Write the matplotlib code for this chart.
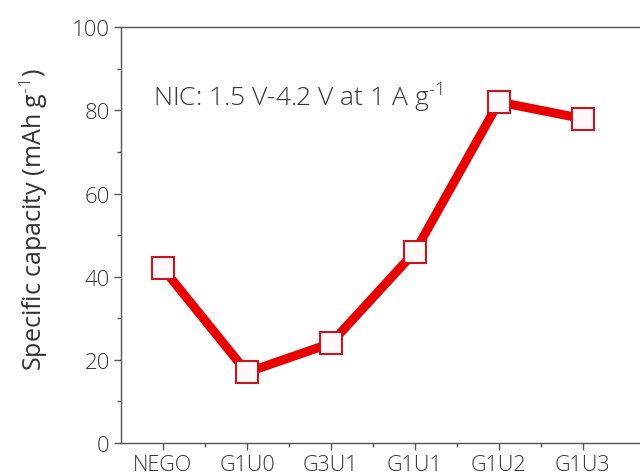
import matplotlib
matplotlib.use("Agg")
import matplotlib.pyplot as plt
from matplotlib.ticker import MultipleLocator

plt.rcParams['font.family'] = ['Open Sans', 'DejaVu Sans']
plt.rcParams['font.weight'] = 'light'
plt.rcParams['mathtext.fontset'] = 'custom'
plt.rcParams['mathtext.rm'] = 'Open Sans:light'

# dados
amostras = ['NEGO', 'G1U0', 'G3U1', 'G1U1', 'G1U2', 'G1U3']
capacidade = [42, 17, 24, 46, 82, 78]

cor_texto = '#333333'
cor_eixo = '#555555'

fig = plt.figure(figsize=(6.4, 4.77), dpi=100)
ax = fig.add_axes([0.189, 0.069, 0.811, 0.872])

x = list(range(len(amostras)))
ax.plot(x, capacidade, color='#e60000', lw=6.5, marker='s', ms=16,
        mfc='#fff8f8', mec='#c8141e', mew=1.5, solid_joinstyle='miter')

ax.set_xlim(-0.5, 5.68)
ax.set_ylim(0, 100)
ax.set_xticks(x)
ax.set_xticklabels(amostras)
ax.set_xticks([i + 0.5 for i in x[:-1]], minor=True)
ax.yaxis.set_major_locator(MultipleLocator(20))
ax.yaxis.set_minor_locator(MultipleLocator(10))

for lado in ['left', 'bottom', 'top']:
    ax.spines[lado].set_color(cor_eixo)
    ax.spines[lado].set_linewidth(1.0)
ax.spines['right'].set_visible(False)

ax.tick_params(which='major', direction='out', length=5, width=1,
               color=cor_eixo, labelsize=16, labelcolor=cor_texto, pad=3)
ax.tick_params(axis='x', which='major', labelsize=15.5, pad=3)
ax.tick_params(which='minor', direction='out', length=3, width=1, color=cor_eixo)

ax.set_ylabel('Specific capacity (mAh g$^{\\text{-1}}$)', fontsize=18,
              color=cor_texto)
ax.yaxis.set_label_coords(-0.137, 0.54)
ax.text(-0.12, 83.5, 'NIC: 1.5 V-4.2 V at 1 A g$^{\\text{-1}}$', fontsize=19,
        color=cor_texto, va='center', ha='left')

fig.savefig('out.png', dpi=100)
